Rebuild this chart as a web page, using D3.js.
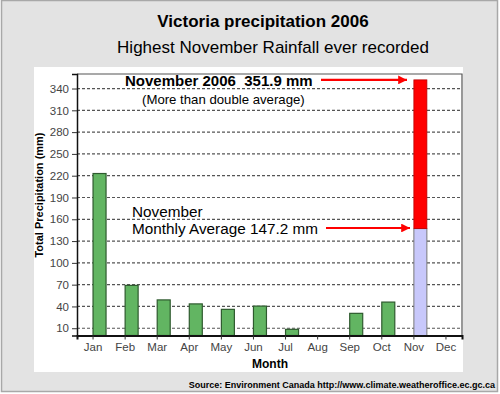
<!DOCTYPE html>
<html>
<head>
<meta charset="utf-8">
<script src="https://cdn.jsdelivr.net/npm/d3@7"></script>
<style>
  body { margin: 0; background: #fff; }
  svg { display: block; font-family: Arial, "Liberation Sans", sans-serif; }
</style>
</head>
<body>
<svg id="chart" width="500" height="394"></svg>
<script>
// data
const months = ['Jan', 'Feb', 'Mar', 'Apr', 'May', 'Jun', 'Jul', 'Aug', 'Sep', 'Oct', 'Nov', 'Dec'];
const rain2006 = [223, 69, 49, 43.5, 36, 40.5, 8.5, 0, 30.5, 46, null, null];
const novTotal = 351.9;
const novAverage = 147.2;
const yTicks = [10, 40, 70, 100, 130, 160, 190, 220, 250, 280, 310, 340];

const svg = d3.select('#chart');

// frame + grey backdrop
svg.append('rect')
    .attr('x', 1.5).attr('y', 0.5).attr('width', 496).attr('height', 391)
    .style('fill', '#e3e3e3').style('stroke', '#a8a8a8').style('stroke-width', 1.5);

svg.append('rect')
    .attr('x', 34).attr('y', 67).attr('width', 429).attr('height', 305)
    .style('fill', '#fff');

// plot area
const plotLeft = 77, plotRight = 462, plotTop = 74;
const x = d3.scaleBand().domain(months).range([plotLeft, plotRight]);
const y = d3.scaleLinear().domain([0, 360]).range([335.5, plotTop]);
const barW = 13;

// grid
svg.append('g').selectAll('line')
    .data(yTicks)
    .enter()
    .append('line')
    .attr('x1', plotLeft).attr('x2', plotRight)
    .attr('y1', d => y(d)).attr('y2', d => y(d))
    .style('stroke', '#555').style('stroke-width', 1.2)
    .style('stroke-dasharray', '3,2');

// plot border (top/right)
svg.append('path')
    .attr('d', `M${plotLeft},${plotTop}H${plotRight}V${y(0)}`)
    .style('fill', 'none').style('stroke', '#555').style('stroke-width', 1.2);

// y axis
const yAxis = svg.append('g')
    .attr('transform', 'translate(' + plotLeft + ',0)')
    .call(d3.axisLeft(y).tickValues(yTicks).tickSize(5).tickPadding(3));
yAxis.select('.domain').style('stroke', '#111').style('stroke-width', 1.5);
yAxis.selectAll('.tick line').style('stroke', '#333');
yAxis.selectAll('text').style('font-size', '11.5px').style('fill', '#444');

// green bars
svg.append('g').selectAll('rect')
    .data(months.map((m, i) => ({ m: m, v: rain2006[i] })).filter(d => d.v))
    .enter()
    .append('rect')
    .attr('x', d => x(d.m) + x.bandwidth() / 2)
    .attr('y', d => y(d.v))
    .attr('width', barW)
    .attr('height', d => y(0) - y(d.v))
    .style('fill', '#62b562')
    .style('stroke', '#2e5a2e').style('stroke-width', 1.2);

// November: average + excess
const nx = x('Nov') + x.bandwidth() / 2;
svg.append('rect')
    .attr('x', nx).attr('y', y(novAverage))
    .attr('width', barW).attr('height', y(0) - y(novAverage))
    .style('fill', '#c8c8fb').style('stroke', '#777').style('stroke-width', 1);
svg.append('rect')
    .attr('x', nx).attr('y', y(novTotal))
    .attr('width', barW).attr('height', y(novAverage) - y(novTotal))
    .style('fill', '#ff0000').style('stroke', '#b00').style('stroke-width', 0.8);

// x axis
const xAxis = svg.append('g')
    .attr('transform', 'translate(0,' + y(0) + ')')
    .call(d3.axisBottom(x).tickSize(4).tickPadding(3));
xAxis.select('.domain').style('stroke', '#111').style('stroke-width', 2);
xAxis.selectAll('.tick line').style('stroke', '#333');
xAxis.selectAll('text').style('font-size', '11.5px').style('fill', '#444');

// titles
svg.append('text')
    .attr('x', 263).attr('y', 27)
    .attr('text-anchor', 'middle')
    .style('font-size', '17px').style('font-weight', 'bold')
    .text('Victoria precipitation 2006');
svg.append('text')
    .attr('x', 273).attr('y', 53)
    .attr('text-anchor', 'middle')
    .style('font-size', '17px')
    .text('Highest November Rainfall ever recorded');

svg.append('text')
    .attr('transform', 'translate(' + 43 + ',' + 195 + ') rotate(-90)')
    .attr('text-anchor', 'middle')
    .style('font-size', '11px').style('font-weight', 'bold')
    .text('Total Precipitation (mm)');
svg.append('text')
    .attr('x', 270).attr('y', 368)
    .attr('text-anchor', 'middle')
    .style('font-size', '12px').style('font-weight', 'bold')
    .text('Month');
svg.append('text')
    .attr('x', 495).attr('y', 388)
    .attr('text-anchor', 'end')
    .style('font-size', '9px').style('font-weight', 'bold')
    .text('Source: Environment Canada http://www.climate.weatheroffice.ec.gc.ca');

// annotations
svg.append('text')
    .attr('x', 125).attr('y', 86)
    .style('font-size', '15px').style('font-weight', 'bold')
    .style('white-space', 'pre')
    .text('November 2006  351.9 mm');
svg.append('text')
    .attr('x', 142).attr('y', 104)
    .style('font-size', '13.2px')
    .text('(More than double average)');
svg.append('text')
    .attr('x', 132).attr('y', 217)
    .style('font-size', '15.3px')
    .text('November');
svg.append('text')
    .attr('x', 132).attr('y', 234)
    .style('font-size', '15.3px')
    .text('Monthly Average 147.2 mm');

svg.append('defs').append('marker')
    .attr('id', 'head')
    .attr('viewBox', '0 0 10 10')
    .attr('refX', 10).attr('refY', 5)
    .attr('markerWidth', 5).attr('markerHeight', 4)
    .attr('markerUnits', 'strokeWidth')
    .attr('orient', 'auto')
    .append('path')
    .attr('d', 'M0,0L10,5L0,10Z')
    .style('fill', '#ff0000');

function arrow(x1, x2, yy) {
    svg.append('line')
        .attr('x1', x1).attr('x2', x2).attr('y1', yy).attr('y2', yy)
        .style('stroke', '#ff0000').style('stroke-width', 2.2)
        .attr('marker-end', 'url(#head)');
}
arrow(321, 407, y(novTotal));
arrow(326, 410, 228);
</script>
</body>
</html>
